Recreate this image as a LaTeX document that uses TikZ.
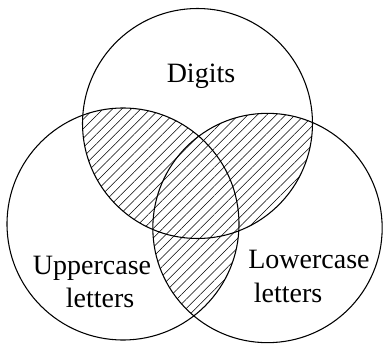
\documentclass[tikz,border=0pt]{standalone}
\usepackage{fontspec}
\setmainfont{Liberation Serif}
\usetikzlibrary{patterns.meta}

\tikzset{
  setline/.style={line width=0.8pt},
  hatch/.style={pattern={Lines[angle=45,distance=5pt,line width=0.4pt]}},
  setlabel/.style={font=\fontsize{21}{25}\selectfont, anchor=base, inner sep=0pt}
}

\begin{document}
\begin{tikzpicture}[x=0.75pt, y=0.75pt]
  \useasboundingbox (0,0) rectangle (383,344);

  % centres of the three sets
  \coordinate (digits) at (197.5,220.5);
  \coordinate (upper)  at (123,120);
  \coordinate (lower)  at (267.5,116);

  % overlaps, each piece filled once
  \begin{scope}
    \clip (digits) circle[radius=86.25pt];
    \fill[hatch] (upper) circle[radius=87pt];
  \end{scope}
  \begin{scope}[even odd rule]
    \clip (0,0) rectangle (383,344) (upper) circle[radius=87pt];
    \clip (digits) circle[radius=86.25pt];
    \fill[hatch] (lower) circle[radius=86pt];
  \end{scope}
  \begin{scope}[even odd rule]
    \clip (0,0) rectangle (383,344) (digits) circle[radius=86.25pt];
    \clip (upper) circle[radius=87pt];
    \fill[hatch] (lower) circle[radius=86pt];
  \end{scope}

  % outlines
  \draw[setline] (digits) circle[radius=86.25pt];
  \draw[setline] (upper)  circle[radius=87pt];
  \draw[setline] (lower)  circle[radius=86pt];

  % labels
  \node[setlabel] (digitsL) at (201,262) {Digits};
  \node[setlabel] (upperA)  at (92,70)   {Uppercase};
  \node[setlabel] (upperB)  at (100,37)  {letters};
  \node[setlabel] (lowerA)  at (309,76)  {Lowercase};
  \node[setlabel] (lowerB)  at (288,42)  {letters};
\end{tikzpicture}
\end{document}
